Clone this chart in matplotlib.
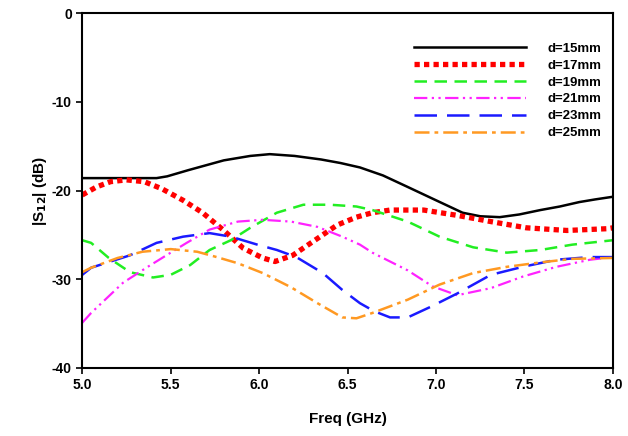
import numpy as np
import matplotlib.pyplot as plt

plt.rcParams['font.family'] = ['Liberation Sans', 'DejaVu Sans']
plt.rcParams['font.weight'] = 'bold'

# d=15mm
f15 = [5.0, 5.2, 5.42, 5.48, 5.6, 5.8, 5.95, 6.06, 6.2, 6.35, 6.46, 6.57, 6.7, 6.84, 7.0, 7.15, 7.25, 7.36, 7.47, 7.59, 7.7, 7.81, 7.9, 8.0]
s15 = [-18.6, -18.6, -18.6, -18.4, -17.7, -16.6, -16.1, -15.9, -16.1, -16.5, -16.9, -17.4, -18.3, -19.6, -21.1, -22.5, -22.9, -23.0, -22.7, -22.2, -21.8, -21.3, -21.0, -20.7]

# d=17mm
f17 = [5.0, 5.08, 5.16, 5.25, 5.35, 5.45, 5.57, 5.68, 5.8, 5.91, 6.02, 6.09, 6.19, 6.33, 6.44, 6.55, 6.64, 6.74, 6.93, 7.12, 7.31, 7.51, 7.74, 7.97, 8.0]
s17 = [-20.5, -19.6, -19.0, -18.8, -19.0, -19.8, -21.1, -22.5, -24.5, -26.5, -27.6, -28.0, -27.3, -25.4, -23.9, -23.0, -22.5, -22.2, -22.2, -22.8, -23.5, -24.2, -24.5, -24.3, -24.2]

# d=19mm
f19 = [5.0, 5.05, 5.15, 5.27, 5.4, 5.5, 5.61, 5.72, 5.84, 5.95, 6.1, 6.25, 6.4, 6.55, 6.64, 6.84, 7.02, 7.21, 7.4, 7.59, 7.77, 8.0]
s19 = [-25.6, -25.9, -27.6, -29.2, -29.8, -29.5, -28.4, -26.7, -25.6, -24.2, -22.5, -21.6, -21.6, -21.8, -22.2, -23.5, -25.2, -26.4, -27.0, -26.7, -26.1, -25.6]

# d=21mm
f21 = [5.0, 5.05, 5.14, 5.23, 5.37, 5.5, 5.59, 5.72, 5.88, 6.02, 6.18, 6.33, 6.47, 6.57, 6.64, 6.84, 6.98, 7.12, 7.31, 7.49, 7.68, 7.87, 8.0]
s21 = [-34.9, -33.8, -32.1, -30.4, -28.6, -27.0, -25.9, -24.4, -23.5, -23.3, -23.5, -24.1, -25.2, -26.1, -27.0, -29.0, -30.8, -31.8, -31.0, -29.7, -28.6, -27.8, -27.5]

# d=23mm
f23 = [5.0, 5.05, 5.16, 5.27, 5.42, 5.57, 5.72, 5.84, 5.99, 6.1, 6.21, 6.36, 6.47, 6.57, 6.65, 6.74, 6.84, 6.97, 7.12, 7.31, 7.49, 7.68, 7.87, 8.0]
s23 = [-29.5, -28.7, -28.0, -27.3, -25.9, -25.2, -24.8, -25.2, -26.1, -26.7, -27.5, -29.3, -31.2, -32.7, -33.6, -34.3, -34.3, -33.1, -31.6, -29.5, -28.6, -27.8, -27.5, -27.5]

# d=25mm
f25 = [5.0, 5.05, 5.2, 5.34, 5.5, 5.65, 5.76, 5.88, 6.02, 6.18, 6.33, 6.47, 6.55, 6.64, 6.84, 7.02, 7.21, 7.4, 7.59, 7.77, 8.0]
s25 = [-29.2, -28.7, -27.6, -26.9, -26.6, -26.9, -27.5, -28.2, -29.3, -30.9, -32.7, -34.3, -34.4, -33.8, -32.3, -30.6, -29.3, -28.6, -28.1, -27.7, -27.6]

labels = ['d=15mm', 'd=17mm', 'd=19mm', 'd=21mm', 'd=23mm', 'd=25mm']
xticks = [5.0, 5.5, 6.0, 6.5, 7.0, 7.5, 8.0]
yticks = [0, -10, -20, -30, -40]

fig = plt.figure(figsize=(6.28, 4.36), dpi=100)
ax = fig.add_axes([0.131, 0.156, 0.845, 0.814])

ax.plot(f15, s15, color='black', lw=1.8, label=labels[0])
ax.plot(f17, s17, color='red', lw=3.8, ls=(0, (1.0, 0.8)), label=labels[1])
ax.plot(f19, s19, color='#22ee22', lw=1.8, ls=(0, (5, 3)), label=labels[2])
ax.plot(f21, s21, color='#ff22ff', lw=1.6, ls=(0, (6, 2, 1, 2, 1, 2)), label=labels[3])
ax.plot(f23, s23, color='#1a1aff', lw=1.8, ls=(0, (9, 4)), label=labels[4])
ax.plot(f25, s25, color='#ff9922', lw=1.8, ls=(0, (6, 2, 1.5, 2)), label=labels[5])

ax.set_xlim(5.0, 8.0)
ax.set_ylim(-40, 0)
ax.set_xticks(xticks)
ax.set_xticklabels(['%.1f' % t for t in xticks])
ax.set_yticks(yticks)
ax.set_yticklabels([str(t) for t in yticks])
ax.tick_params(direction='out', length=4, width=1.2, labelsize=10)
for sp in ax.spines.values():
    sp.set_linewidth(1.5)

ax.set_xlabel('Freq (GHz)', fontsize=11, fontweight='bold', labelpad=14)
ax.set_ylabel('|S$_{12}$| (dB)', fontsize=11, fontweight='bold', labelpad=2)

leg = ax.legend(loc='upper right', frameon=False, handlelength=8.5, fontsize=9.5,
                labelspacing=0.35, bbox_to_anchor=(1.0, 0.95), handletextpad=1.6)

fig.savefig('out.png', dpi=100)
